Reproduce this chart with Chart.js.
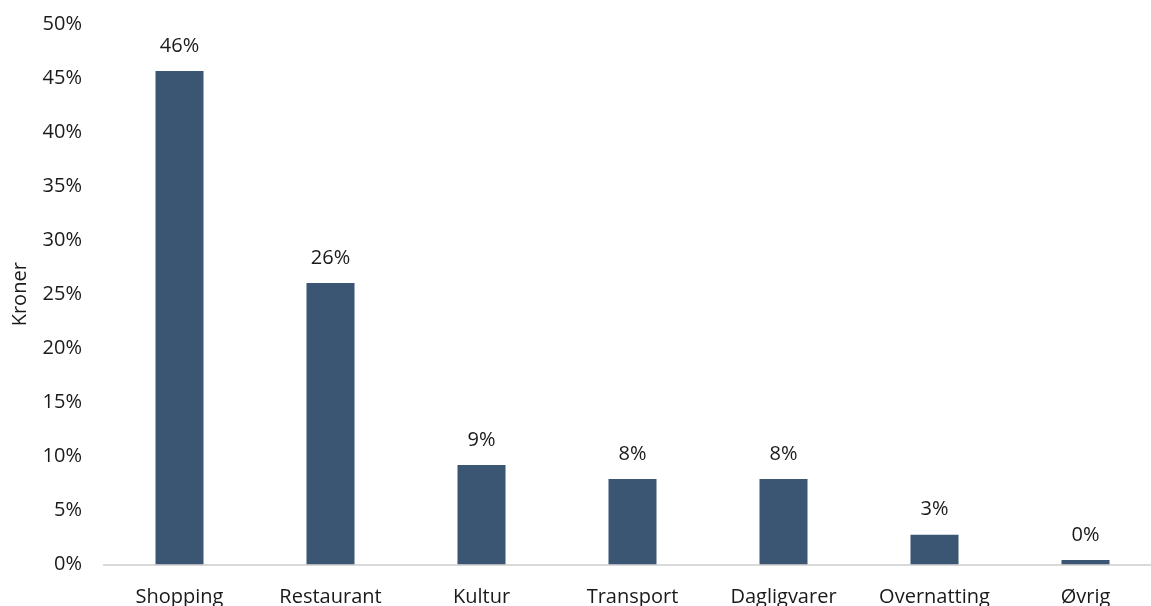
<!DOCTYPE html>
<html lang="no">
<head>
    <meta charset="UTF-8">
    <title>Kroner per kategori</title>
    <style>
        html, body {
            margin: 0;
            padding: 0;
            background: #ffffff;
            overflow: hidden;
        }

        .wrap {
            width: 1162px;
            height: 606px;
        }
    </style>
</head>
<body>
    <div class="wrap">
        <canvas id="chart"></canvas>
    </div>

    <script src="https://cdn.jsdelivr.net/npm/chart.js"></script>
    <script>
        const categories = ['Shopping', 'Restaurant', 'Kultur', 'Transport', 'Dagligvarer', 'Overnatting', 'Øvrig'];
        const shares = [45.65, 26.04, 9.2, 7.9, 7.9, 2.75, 0.42];
        const shareLabels = ['46%', '26%', '9%', '8%', '8%', '3%', '0%'];
        const yTicks = [0, 5, 10, 15, 20, 25, 30, 35, 40, 45, 50];

        const FONT = "'Open Sans', sans-serif";
        const TEXT = '#1a1a1a';

        // skriver prosentverdien over hver søyle
        const barLabels = {
            id: 'barLabels',
            afterDatasetsDraw(chart) {
                const ctx = chart.ctx;
                const meta = chart.getDatasetMeta(0);
                ctx.save();
                ctx.font = '20px ' + FONT;
                ctx.fillStyle = TEXT;
                ctx.textAlign = 'center';
                ctx.textBaseline = 'middle';
                meta.data.forEach((bar, i) => {
                    ctx.fillText(shareLabels[i], bar.x, bar.y - 25);
                });
                ctx.restore();
            }
        };

        const ctx = document.getElementById('chart').getContext('2d');
        new Chart(ctx, {
            type: 'bar',
            data: {
                labels: categories,
                datasets: [{
                    data: shares,
                    backgroundColor: '#3a5672',
                    borderWidth: 0,
                    categoryPercentage: 1,
                    barPercentage: 0.318
                }]
            },
            options: {
                responsive: true,
                maintainAspectRatio: false,
                animation: false,
                layout: {
                    padding: { top: 24, right: 1, bottom: 0, left: 0 }
                },
                plugins: {
                    legend: { display: false },
                    tooltip: { enabled: false }
                },
                scales: {
                    x: {
                        grid: { display: false, drawTicks: false },
                        border: { display: true, color: '#d9d9d9', width: 2 },
                        ticks: {
                            color: TEXT,
                            font: { family: FONT, size: 20 },
                            padding: 21,
                            maxRotation: 0,
                            autoSkip: false
                        },
                        afterFit(scale) {
                            scale.height = 41.5;
                        }
                    },
                    y: {
                        min: 0,
                        max: 50,
                        afterBuildTicks(scale) {
                            scale.ticks = yTicks.map(v => ({ value: v }));
                        },
                        grid: { display: false, drawTicks: false },
                        border: { display: false },
                        ticks: {
                            color: TEXT,
                            font: { family: FONT, size: 20 },
                            padding: 22,
                            callback: v => v + '%'
                        },
                        title: {
                            display: true,
                            text: 'Kroner',
                            color: TEXT,
                            font: { family: FONT, size: 20 },
                            padding: { top: 8, bottom: 0 }
                        },
                        afterFit(scale) {
                            scale.width = 104;
                            scale.paddingTop = 0;
                        }
                    }
                }
            },
            plugins: [barLabels]
        });
    </script>
</body>
</html>
